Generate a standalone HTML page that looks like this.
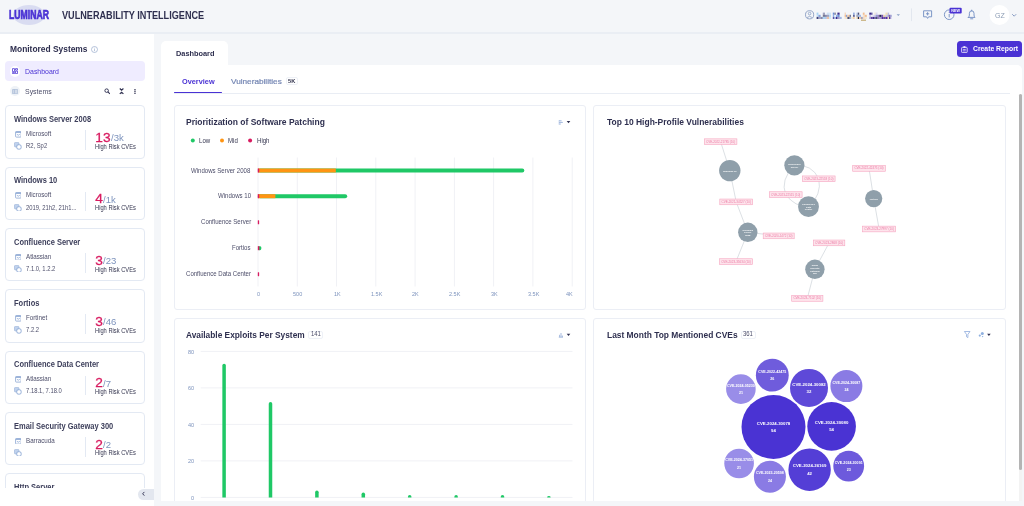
<!DOCTYPE html>
<html><head><meta charset="utf-8"><title>Vulnerability Intelligence</title>
<style>
*{box-sizing:border-box;margin:0;padding:0}
html,body{width:1024px;height:506px;overflow:hidden;background:#f4f6f9;font-family:"Liberation Sans",sans-serif;color:#2e2f4f}
.abs{position:absolute}
.t{position:absolute;white-space:nowrap;transform-origin:0 50%}
#hdr{position:absolute;left:0;top:0;width:1024px;height:34px;background:#f4f6f9;border-bottom:2px solid #eaeef4}
#side{position:absolute;left:0;top:34px;width:153.6px;height:472px;background:#fff}
.sc{position:absolute;left:5.4px;width:139.7px;height:53.3px;border:1px solid #e3e9f3;border-radius:4px;background:#fff}
.cd{position:absolute;border:1px solid #ebeef5;border-radius:3px;background:#fff}
.bdg{position:absolute;height:8.1px;border:1px solid #eef1f7;border-radius:2px;background:#fff}
svg text{font-family:"Liberation Sans",sans-serif}
.nt{font-size:2.4px;fill:#fff;font-weight:700;fill-opacity:.92}
.lt{font-size:3.1px;fill:#e8558a;fill-opacity:.72}
.bt{fill:#fff;font-weight:700}
</style></head><body>
<div id="hdr"></div>
<div class="abs" style="left:12.6px;top:4.7px;width:32.6px;height:20.3px;border-radius:50%;background:#d9dcf1"></div>
<div class="t" style="left:8.90px;top:7.28px;font-size:12.6px;line-height:16.38px;color:#4a32d4;font-weight:700;transform:scaleX(0.6869);-webkit-text-stroke:.7px #4a32d4;">LUMINAR</div>
<div class="t" style="left:61.70px;top:9.09px;font-size:10.2px;line-height:13.26px;color:#2e2f4f;font-weight:700;transform:scaleX(0.8947);">VULNERABILITY INTELLIGENCE</div>
<svg class="abs" style="left:0;top:0;width:1024px;height:34px" viewBox="0 0 1024 34">
<circle cx="809.6" cy="14.8" r="4.1" fill="none" stroke="#7d93bd" stroke-width=".8"/><circle cx="809.6" cy="13.6" r="1.3" fill="none" stroke="#7d93bd" stroke-width=".7"/><path d="M807 17.6q2.6-2.6 5.2 0" fill="none" stroke="#7d93bd" stroke-width=".7"/>
<rect x="816.6" y="12.6" width="1.8" height="2.2" fill="#a9d4f5" opacity="1"/><rect x="816.6" y="14.8" width="1.8" height="2.1" fill="#a9d4f5" opacity="0.6"/><rect x="816.6" y="16.9" width="1.8" height="2.1" fill="#3a3f7a" opacity="1"/><rect x="818.4" y="14.8" width="2.2" height="2.1" fill="#6b8fd6" opacity="0.8"/><rect x="818.4" y="16.9" width="2.2" height="2.1" fill="#3a3f7a" opacity="0.45"/><rect x="820.6" y="16.9" width="2.2" height="2.1" fill="#3a3f7a" opacity="0.6"/><rect x="822.8" y="12.6" width="2.2" height="2.2" fill="#3a3f7a" opacity="0.45"/><rect x="822.8" y="14.8" width="2.2" height="2.1" fill="#23264d" opacity="0.6"/><rect x="822.8" y="16.9" width="2.2" height="2.1" fill="#a9d4f5" opacity="1"/><rect x="825.0" y="14.8" width="1.8" height="2.1" fill="#3a3f7a" opacity="0.6"/><rect x="825.0" y="16.9" width="1.8" height="2.1" fill="#6b8fd6" opacity="0.45"/><rect x="826.8" y="12.6" width="2.2" height="2.2" fill="#c9dcf3" opacity="0.8"/><rect x="826.8" y="14.8" width="2.2" height="2.1" fill="#3a3f7a" opacity="0.45"/><rect x="826.8" y="16.9" width="2.2" height="2.1" fill="#e8a06a" opacity="0.6"/><rect x="829.0" y="12.6" width="2.0" height="2.2" fill="#a9d4f5" opacity="0.45"/><rect x="829.0" y="14.8" width="2.0" height="2.1" fill="#a9d4f5" opacity="0.8"/><rect x="829.0" y="16.9" width="2.0" height="2.1" fill="#a9d4f5" opacity="0.45"/><rect x="832.8" y="12.6" width="1.4" height="2.2" fill="#6b8fd6" opacity="1"/><rect x="832.8" y="14.8" width="1.4" height="2.1" fill="#8fb3ea" opacity="1"/><rect x="832.8" y="16.9" width="1.4" height="2.1" fill="#3a2a8c" opacity="0.8"/><rect x="834.2" y="12.6" width="1.8" height="2.2" fill="#23264d" opacity="0.45"/><rect x="834.2" y="16.9" width="1.8" height="2.1" fill="#6b8fd6" opacity="0.6"/><rect x="836.0" y="14.8" width="1.4" height="2.1" fill="#8fb3ea" opacity="1"/><rect x="836.0" y="16.9" width="1.4" height="2.1" fill="#3a2a8c" opacity="1"/><rect x="837.4" y="12.6" width="2.2" height="2.2" fill="#3a2a8c" opacity="1"/><rect x="837.4" y="14.8" width="2.2" height="2.1" fill="#6b8fd6" opacity="1"/><rect x="837.4" y="16.9" width="2.2" height="2.1" fill="#3a2a8c" opacity="0.45"/><rect x="839.6" y="16.9" width="1.8" height="2.1" fill="#6b8fd6" opacity="0.6"/><rect x="841.4" y="16.9" width="0.5" height="2.1" fill="#6b8fd6" opacity="0.45"/><rect x="844.6" y="12.6" width="1.4" height="2.2" fill="#f2b27a" opacity="0.45"/><rect x="844.6" y="14.8" width="1.4" height="2.1" fill="#f2b27a" opacity="0.8"/><rect x="844.6" y="16.9" width="1.4" height="2.1" fill="#f5c9a0" opacity="0.45"/><rect x="846.0" y="14.8" width="1.4" height="2.1" fill="#6b8fd6" opacity="0.8"/><rect x="846.0" y="16.9" width="1.4" height="2.1" fill="#f0d9a8" opacity="0.6"/><rect x="847.4" y="14.8" width="2.2" height="2.1" fill="#f5c9a0" opacity="1"/><rect x="847.4" y="16.9" width="2.2" height="2.1" fill="#23264d" opacity="0.8"/><rect x="849.6" y="14.8" width="1.4" height="2.1" fill="#23264d" opacity="0.6"/><rect x="849.6" y="16.9" width="1.4" height="2.1" fill="#6b8fd6" opacity="0.6"/><rect x="851.0" y="16.9" width="2.2" height="2.1" fill="#f0d9a8" opacity="0.45"/><rect x="853.2" y="12.6" width="1.4" height="2.2" fill="#6b8fd6" opacity="0.8"/><rect x="853.2" y="14.8" width="1.4" height="2.1" fill="#3a3f7a" opacity="1"/><rect x="853.2" y="16.9" width="1.4" height="2.1" fill="#f5c9a0" opacity="1"/><rect x="856.4" y="12.6" width="1.4" height="2.2" fill="#6b8fd6" opacity="0.45"/><rect x="856.4" y="14.8" width="1.4" height="2.1" fill="#23264d" opacity="0.45"/><rect x="856.4" y="16.9" width="1.4" height="2.1" fill="#f0d9a8" opacity="1"/><rect x="857.8" y="12.6" width="1.4" height="2.2" fill="#23264d" opacity="0.8"/><rect x="857.8" y="14.8" width="1.4" height="2.1" fill="#6b8fd6" opacity="0.6"/><rect x="857.8" y="16.9" width="1.4" height="2.1" fill="#23264d" opacity="1"/><rect x="859.2" y="14.8" width="1.8" height="2.1" fill="#6b8fd6" opacity="0.6"/><rect x="859.2" y="16.9" width="1.8" height="2.1" fill="#f5c9a0" opacity="1"/><rect x="861.0" y="16.9" width="1.8" height="2.1" fill="#3a3f7a" opacity="0.45"/><rect x="862.8" y="12.6" width="1.8" height="2.2" fill="#f2b27a" opacity="0.8"/><rect x="862.8" y="14.8" width="1.8" height="2.1" fill="#f5c9a0" opacity="0.45"/><rect x="862.8" y="16.9" width="1.8" height="2.1" fill="#f2b27a" opacity="0.45"/><rect x="864.6" y="14.8" width="2.2" height="2.1" fill="#f2b27a" opacity="0.8"/><rect x="864.6" y="16.9" width="2.2" height="2.1" fill="#f0d9a8" opacity="0.45"/><rect x="869.3" y="12.6" width="1.8" height="2.2" fill="#3a2a8c" opacity="1"/><rect x="869.3" y="14.8" width="1.8" height="2.1" fill="#c9c0e8" opacity="1"/><rect x="869.3" y="16.9" width="1.8" height="2.1" fill="#3a2a8c" opacity="0.45"/><rect x="871.1" y="12.6" width="1.4" height="2.2" fill="#3a2a8c" opacity="0.8"/><rect x="871.1" y="16.9" width="1.4" height="2.1" fill="#5a2aa0" opacity="1"/><rect x="872.5" y="14.8" width="1.8" height="2.1" fill="#c9c0e8" opacity="0.45"/><rect x="872.5" y="16.9" width="1.8" height="2.1" fill="#3a2a8c" opacity="1"/><rect x="874.3" y="12.6" width="1.4" height="2.2" fill="#f0d9a8" opacity="0.45"/><rect x="874.3" y="14.8" width="1.4" height="2.1" fill="#c9c0e8" opacity="1"/><rect x="874.3" y="16.9" width="1.4" height="2.1" fill="#3a2a8c" opacity="0.8"/><rect x="875.7" y="12.6" width="1.8" height="2.2" fill="#c9c0e8" opacity="0.6"/><rect x="875.7" y="14.8" width="1.8" height="2.1" fill="#8f9ad0" opacity="1"/><rect x="875.7" y="16.9" width="1.8" height="2.1" fill="#23264d" opacity="0.8"/><rect x="877.5" y="14.8" width="1.8" height="2.1" fill="#5a2aa0" opacity="0.6"/><rect x="877.5" y="16.9" width="1.8" height="2.1" fill="#5a2aa0" opacity="0.6"/><rect x="879.3" y="14.8" width="2.2" height="2.1" fill="#23264d" opacity="1"/><rect x="879.3" y="16.9" width="2.2" height="2.1" fill="#3a2a8c" opacity="0.45"/><rect x="881.5" y="14.8" width="1.8" height="2.1" fill="#5a2aa0" opacity="0.8"/><rect x="881.5" y="16.9" width="1.8" height="2.1" fill="#5a2aa0" opacity="1"/><rect x="883.3" y="14.8" width="2.2" height="2.1" fill="#f0d9a8" opacity="1"/><rect x="883.3" y="16.9" width="2.2" height="2.1" fill="#3a2a8c" opacity="0.8"/><rect x="885.5" y="12.6" width="2.2" height="2.2" fill="#f0d9a8" opacity="0.8"/><rect x="885.5" y="14.8" width="2.2" height="2.1" fill="#8f9ad0" opacity="0.45"/><rect x="885.5" y="16.9" width="2.2" height="2.1" fill="#5a2aa0" opacity="1"/><rect x="887.7" y="12.6" width="1.4" height="2.2" fill="#8f9ad0" opacity="0.6"/><rect x="887.7" y="14.8" width="1.4" height="2.1" fill="#3a2a8c" opacity="0.45"/><rect x="887.7" y="16.9" width="1.4" height="2.1" fill="#f0d9a8" opacity="0.8"/><rect x="889.1" y="14.8" width="1.4" height="2.1" fill="#5a2aa0" opacity="0.8"/><rect x="889.1" y="16.9" width="1.4" height="2.1" fill="#3a2a8c" opacity="1"/><rect x="890.5" y="14.8" width="1.3" height="2.1" fill="#8f9ad0" opacity="0.8"/><rect x="890.5" y="16.9" width="1.3" height="2.1" fill="#c9c0e8" opacity="0.6"/><rect x="861" y="19.6" width="5" height="1.2" fill="#b08a3a" opacity=".7"/>
<path d="M896.6 14.2h3.4l-1.7 1.9z" fill="#8ea3c8"/>
<path d="M911.5 8.4v12.7" stroke="#e2e7ef" stroke-width="1"/>
<path d="M923.6 10.8h8v6h-3l-1 1.6-1-1.6h-3z" fill="none" stroke="#6f8cc2" stroke-width=".9" stroke-linejoin="round"/><path d="M927.6 12.2v3.2M926 13.8h3.2" stroke="#6f8cc2" stroke-width=".9"/>
<circle cx="949.2" cy="14.7" r="4.8" fill="none" stroke="#6f8cc2" stroke-width=".9"/><path d="M949.2 14v3.4M949.2 11.8v1" stroke="#6f8cc2" stroke-width=".9"/>
<rect x="949.5" y="7.7" width="12.2" height="5.8" rx="1" fill="#4a32d4"/>
<text x="955.6" y="11.9" text-anchor="middle" style="font-size:3.7px;font-weight:700;fill:#fff">NEW</text>
<path d="M968.4 17.4h6.6q-1-1-1-2.4v-1.6a2.3 2.6 0 0 0-4.6 0v1.600q0 1.400-1 2.400zM970.600 18.800h2.200M971.700 10.100v.9" fill="none" stroke="#6f8cc2" stroke-width=".9" stroke-linejoin="round" stroke-linecap="round"/>
<circle cx="999.5" cy="15" r="10" fill="#fff"/>
<path d="M1012.200 14.200l2 2 2-2" fill="none" stroke="#7d93bd" stroke-width=".9"/>
</svg>
<div class="t" style="left:994.80px;top:10.92px;font-size:7.4px;line-height:9.62px;color:#8d9db5;transform:scaleX(0.9537);">GZ</div>
<div id="side"></div>
<div class="t" style="left:9.60px;top:43.49px;font-size:9.4px;line-height:12.22px;color:#2e2f4f;font-weight:700;transform:scaleX(0.8961);">Monitored Systems</div>
<svg class="abs" style="left:91px;top:45.8px;width:7px;height:7px" viewBox="0 0 10 10"><circle cx="5" cy="5" r="4.3" fill="none" stroke="#8ea3c8" stroke-width=".9"/><path d="M5 4.4v3M5 2.5v1" stroke="#8ea3c8" stroke-width=".9"/></svg>
<div class="abs" style="left:5.3px;top:61.4px;width:139.7px;height:19.5px;background:#efecff;border-radius:4px"></div>
<div class="abs" style="left:9.6px;top:66px;width:10.6px;height:10.6px;background:#fff;border-radius:50%"></div>
<svg class="abs" style="left:12.1px;top:68.3px;width:6px;height:6.2px" viewBox="0 0 12 12"><path d="M1 1h4v6H1zM7 1h4v3H7zM7 6h4v5H7zM1 9h4v2H1z" fill="none" stroke="#4a32d4" stroke-width="1.5"/></svg>
<div class="t" style="left:25.10px;top:66.91px;font-size:7.6px;line-height:9.88px;color:#4a32d4;transform:scaleX(0.9145);">Dashboard</div>
<div class="abs" style="left:9.6px;top:85.9px;width:10.6px;height:10.6px;background:#eef2f7;border-radius:50%"></div>
<svg class="abs" style="left:11.9px;top:88.6px;width:6.2px;height:5.2px" viewBox="0 0 12 10"><rect x=".8" y=".8" width="10.4" height="8.4" rx="1" fill="#d3dcea" stroke="#9fb2d1" stroke-width="1.2"/><path d="M4.6 1v8" stroke="#9fb2d1" stroke-width="1.2"/></svg>
<div class="t" style="left:25.10px;top:87.01px;font-size:7.6px;line-height:9.88px;color:#4d4e6a;transform:scaleX(0.9163);">Systems</div>
<svg class="abs" style="left:103.8px;top:88px;width:6.6px;height:6.6px" viewBox="0 0 12 12"><circle cx="4.8" cy="4.8" r="3.2" fill="none" stroke="#2e2f4f" stroke-width="1.7"/><path d="M7.2 7.2l3.6 3.6" stroke="#2e2f4f" stroke-width="2"/></svg>
<svg class="abs" style="left:118.8px;top:88.3px;width:5.2px;height:6.4px" viewBox="0 0 10 12"><path d="M1.5 .8L5 4 8.5 .8M1.5 11.2L5 8l3.5 3.2" fill="none" stroke="#2e2f4f" stroke-width="2.3"/></svg>
<svg class="abs" style="left:134.3px;top:88.7px;width:2px;height:5.6px" viewBox="0 0 2 6"><circle cx="1" cy=".9" r=".85" fill="#2e2f4f"/><circle cx="1" cy="3" r=".85" fill="#2e2f4f"/><circle cx="1" cy="5.1" r=".85" fill="#2e2f4f"/></svg>
<div class="sc" style="top:105.4px"></div>
<div class="t" style="left:13.90px;top:115.07px;font-size:8.2px;line-height:10.66px;color:#3d3f5b;font-weight:700;transform:scaleX(0.9160);">Windows Server 2008</div>
<svg class="abs" style="left:14.6px;top:131.0px;width:6.7px;height:6.7px" viewBox="0 0 8 8"><rect x=".7" y=".7" width="6.6" height="6.6" rx=".8" fill="none" stroke="#8ea9d4" stroke-width="1"/><rect x=".7" y=".7" width="6.6" height="1.5" fill="#8ea9d4"/><path d="M2.3 4q1.700 2 3.400 0" fill="none" stroke="#8ea9d4" stroke-width="1"/></svg>
<div class="t" style="left:25.80px;top:130.03px;font-size:6.4px;line-height:8.32px;color:#4d4e6a;transform:scaleX(0.9750);">Microsoft</div>
<svg class="abs" style="left:14px;top:142.2px;width:7.7px;height:7.7px" viewBox="0 0 8 8"><rect x=".4" y=".4" width="4.800" height="4.800" rx="1.200" fill="#c0d2ed" stroke="#8ea9d4" stroke-width=".6"/><rect x="2.900" y="2.900" width="4.500" height="4.500" rx="1.500" fill="#fff" stroke="#8ea9d4" stroke-width="1"/></svg>
<div class="t" style="left:25.80px;top:142.28px;font-size:6.4px;line-height:8.32px;color:#4d4e6a;transform:scaleX(0.9150);">R2, Sp2</div>
<div class="abs" style="left:85.1px;top:130.4px;width:1px;height:19.8px;background:#e3e9f3"></div>
<div class="t" style="left:95.30px;top:129.06px;font-size:13.7px;line-height:17.81px;color:#d81b60;-webkit-text-stroke:.3px #d81b60;">13</div>
<div class="t" style="left:110.84px;top:133.30px;font-size:9.2px;line-height:11.96px;color:#7d93bd;transform:scaleX(1.0400);">/3k</div>
<div class="t" style="left:95.10px;top:142.98px;font-size:6.4px;line-height:8.32px;color:#34354f;transform:scaleX(0.8985);">High Risk CVEs</div>
<div class="sc" style="top:166.7px"></div>
<div class="t" style="left:13.90px;top:176.37px;font-size:8.2px;line-height:10.66px;color:#3d3f5b;font-weight:700;transform:scaleX(0.9160);">Windows 10</div>
<svg class="abs" style="left:14.6px;top:192.3px;width:6.7px;height:6.7px" viewBox="0 0 8 8"><rect x=".7" y=".7" width="6.6" height="6.6" rx=".8" fill="none" stroke="#8ea9d4" stroke-width="1"/><rect x=".7" y=".7" width="6.6" height="1.5" fill="#8ea9d4"/><path d="M2.3 4q1.700 2 3.400 0" fill="none" stroke="#8ea9d4" stroke-width="1"/></svg>
<div class="t" style="left:25.80px;top:191.33px;font-size:6.4px;line-height:8.32px;color:#4d4e6a;transform:scaleX(0.9750);">Microsoft</div>
<svg class="abs" style="left:14px;top:203.5px;width:7.7px;height:7.7px" viewBox="0 0 8 8"><rect x=".4" y=".4" width="4.800" height="4.800" rx="1.200" fill="#c0d2ed" stroke="#8ea9d4" stroke-width=".6"/><rect x="2.900" y="2.900" width="4.500" height="4.500" rx="1.500" fill="#fff" stroke="#8ea9d4" stroke-width="1"/></svg>
<div class="t" style="left:25.80px;top:203.58px;font-size:6.4px;line-height:8.32px;color:#4d4e6a;transform:scaleX(0.9150);">2019, 21h2, 21h1...</div>
<div class="abs" style="left:85.1px;top:191.7px;width:1px;height:19.8px;background:#e3e9f3"></div>
<div class="t" style="left:95.30px;top:190.36px;font-size:13.7px;line-height:17.81px;color:#d81b60;-webkit-text-stroke:.3px #d81b60;">4</div>
<div class="t" style="left:103.22px;top:194.60px;font-size:9.2px;line-height:11.96px;color:#7d93bd;transform:scaleX(1.0400);">/1k</div>
<div class="t" style="left:95.10px;top:204.28px;font-size:6.4px;line-height:8.32px;color:#34354f;transform:scaleX(0.8985);">High Risk CVEs</div>
<div class="sc" style="top:228.0px"></div>
<div class="t" style="left:13.90px;top:237.67px;font-size:8.2px;line-height:10.66px;color:#3d3f5b;font-weight:700;transform:scaleX(0.9160);">Confluence Server</div>
<svg class="abs" style="left:14.6px;top:253.6px;width:6.7px;height:6.7px" viewBox="0 0 8 8"><rect x=".7" y=".7" width="6.6" height="6.6" rx=".8" fill="none" stroke="#8ea9d4" stroke-width="1"/><rect x=".7" y=".7" width="6.6" height="1.5" fill="#8ea9d4"/><path d="M2.3 4q1.700 2 3.400 0" fill="none" stroke="#8ea9d4" stroke-width="1"/></svg>
<div class="t" style="left:25.80px;top:252.63px;font-size:6.4px;line-height:8.32px;color:#4d4e6a;transform:scaleX(0.9750);">Atlassian</div>
<svg class="abs" style="left:14px;top:264.8px;width:7.7px;height:7.7px" viewBox="0 0 8 8"><rect x=".4" y=".4" width="4.800" height="4.800" rx="1.200" fill="#c0d2ed" stroke="#8ea9d4" stroke-width=".6"/><rect x="2.900" y="2.900" width="4.500" height="4.500" rx="1.500" fill="#fff" stroke="#8ea9d4" stroke-width="1"/></svg>
<div class="t" style="left:25.80px;top:264.88px;font-size:6.4px;line-height:8.32px;color:#4d4e6a;transform:scaleX(0.9150);">7.1.0, 1.2.2</div>
<div class="abs" style="left:85.1px;top:253.0px;width:1px;height:19.8px;background:#e3e9f3"></div>
<div class="t" style="left:95.30px;top:251.66px;font-size:13.7px;line-height:17.81px;color:#d81b60;-webkit-text-stroke:.3px #d81b60;">3</div>
<div class="t" style="left:103.22px;top:255.90px;font-size:9.2px;line-height:11.96px;color:#7d93bd;transform:scaleX(1.0400);">/23</div>
<div class="t" style="left:95.10px;top:265.58px;font-size:6.4px;line-height:8.32px;color:#34354f;transform:scaleX(0.8985);">High Risk CVEs</div>
<div class="sc" style="top:289.3px"></div>
<div class="t" style="left:13.90px;top:298.97px;font-size:8.2px;line-height:10.66px;color:#3d3f5b;font-weight:700;transform:scaleX(0.9160);">Fortios</div>
<svg class="abs" style="left:14.6px;top:314.9px;width:6.7px;height:6.7px" viewBox="0 0 8 8"><rect x=".7" y=".7" width="6.6" height="6.6" rx=".8" fill="none" stroke="#8ea9d4" stroke-width="1"/><rect x=".7" y=".7" width="6.6" height="1.5" fill="#8ea9d4"/><path d="M2.3 4q1.700 2 3.400 0" fill="none" stroke="#8ea9d4" stroke-width="1"/></svg>
<div class="t" style="left:25.80px;top:313.93px;font-size:6.4px;line-height:8.32px;color:#4d4e6a;transform:scaleX(0.9750);">Fortinet</div>
<svg class="abs" style="left:14px;top:326.1px;width:7.7px;height:7.7px" viewBox="0 0 8 8"><rect x=".4" y=".4" width="4.800" height="4.800" rx="1.200" fill="#c0d2ed" stroke="#8ea9d4" stroke-width=".6"/><rect x="2.900" y="2.900" width="4.500" height="4.500" rx="1.500" fill="#fff" stroke="#8ea9d4" stroke-width="1"/></svg>
<div class="t" style="left:25.80px;top:326.18px;font-size:6.4px;line-height:8.32px;color:#4d4e6a;transform:scaleX(0.9150);">7.2.2</div>
<div class="abs" style="left:85.1px;top:314.3px;width:1px;height:19.8px;background:#e3e9f3"></div>
<div class="t" style="left:95.30px;top:312.96px;font-size:13.7px;line-height:17.81px;color:#d81b60;-webkit-text-stroke:.3px #d81b60;">3</div>
<div class="t" style="left:103.22px;top:317.20px;font-size:9.2px;line-height:11.96px;color:#7d93bd;transform:scaleX(1.0400);">/46</div>
<div class="t" style="left:95.10px;top:326.88px;font-size:6.4px;line-height:8.32px;color:#34354f;transform:scaleX(0.8985);">High Risk CVEs</div>
<div class="sc" style="top:350.6px"></div>
<div class="t" style="left:13.90px;top:360.27px;font-size:8.2px;line-height:10.66px;color:#3d3f5b;font-weight:700;transform:scaleX(0.9160);">Confluence Data Center</div>
<svg class="abs" style="left:14.6px;top:376.2px;width:6.7px;height:6.7px" viewBox="0 0 8 8"><rect x=".7" y=".7" width="6.6" height="6.6" rx=".8" fill="none" stroke="#8ea9d4" stroke-width="1"/><rect x=".7" y=".7" width="6.6" height="1.5" fill="#8ea9d4"/><path d="M2.3 4q1.700 2 3.400 0" fill="none" stroke="#8ea9d4" stroke-width="1"/></svg>
<div class="t" style="left:25.80px;top:375.23px;font-size:6.4px;line-height:8.32px;color:#4d4e6a;transform:scaleX(0.9750);">Atlassian</div>
<svg class="abs" style="left:14px;top:387.4px;width:7.7px;height:7.7px" viewBox="0 0 8 8"><rect x=".4" y=".4" width="4.800" height="4.800" rx="1.200" fill="#c0d2ed" stroke="#8ea9d4" stroke-width=".6"/><rect x="2.900" y="2.900" width="4.500" height="4.500" rx="1.500" fill="#fff" stroke="#8ea9d4" stroke-width="1"/></svg>
<div class="t" style="left:25.80px;top:387.48px;font-size:6.4px;line-height:8.32px;color:#4d4e6a;transform:scaleX(0.9150);">7.18.1, 7.18.0</div>
<div class="abs" style="left:85.1px;top:375.6px;width:1px;height:19.8px;background:#e3e9f3"></div>
<div class="t" style="left:95.30px;top:374.26px;font-size:13.7px;line-height:17.81px;color:#d81b60;-webkit-text-stroke:.3px #d81b60;">2</div>
<div class="t" style="left:103.22px;top:378.50px;font-size:9.2px;line-height:11.96px;color:#7d93bd;transform:scaleX(1.0400);">/7</div>
<div class="t" style="left:95.10px;top:388.18px;font-size:6.4px;line-height:8.32px;color:#34354f;transform:scaleX(0.8985);">High Risk CVEs</div>
<div class="sc" style="top:411.9px"></div>
<div class="t" style="left:13.90px;top:421.57px;font-size:8.2px;line-height:10.66px;color:#3d3f5b;font-weight:700;transform:scaleX(0.9160);">Email Security Gateway 300</div>
<svg class="abs" style="left:14.6px;top:437.5px;width:6.7px;height:6.7px" viewBox="0 0 8 8"><rect x=".7" y=".7" width="6.6" height="6.6" rx=".8" fill="none" stroke="#8ea9d4" stroke-width="1"/><rect x=".7" y=".7" width="6.6" height="1.5" fill="#8ea9d4"/><path d="M2.3 4q1.700 2 3.400 0" fill="none" stroke="#8ea9d4" stroke-width="1"/></svg>
<div class="t" style="left:25.80px;top:436.53px;font-size:6.4px;line-height:8.32px;color:#4d4e6a;transform:scaleX(0.9750);">Barracuda</div>
<svg class="abs" style="left:14px;top:448.7px;width:7.7px;height:7.7px" viewBox="0 0 8 8"><rect x=".4" y=".4" width="4.800" height="4.800" rx="1.200" fill="#c0d2ed" stroke="#8ea9d4" stroke-width=".6"/><rect x="2.900" y="2.900" width="4.500" height="4.500" rx="1.500" fill="#fff" stroke="#8ea9d4" stroke-width="1"/></svg>
<div class="abs" style="left:85.1px;top:436.9px;width:1px;height:19.8px;background:#e3e9f3"></div>
<div class="t" style="left:95.30px;top:435.56px;font-size:13.7px;line-height:17.81px;color:#d81b60;-webkit-text-stroke:.3px #d81b60;">2</div>
<div class="t" style="left:103.22px;top:439.80px;font-size:9.2px;line-height:11.96px;color:#7d93bd;transform:scaleX(1.0400);">/2</div>
<div class="t" style="left:95.10px;top:449.48px;font-size:6.4px;line-height:8.32px;color:#34354f;transform:scaleX(0.8985);">High Risk CVEs</div>
<div class="sc" style="top:473.2px"></div>
<div class="t" style="left:13.90px;top:482.87px;font-size:8.2px;line-height:10.66px;color:#3d3f5b;font-weight:700;transform:scaleX(0.9160);">Http Server</div>
<svg class="abs" style="left:14.6px;top:498.8px;width:6.7px;height:6.7px" viewBox="0 0 8 8"><rect x=".7" y=".7" width="6.6" height="6.6" rx=".8" fill="none" stroke="#8ea9d4" stroke-width="1"/><rect x=".7" y=".7" width="6.6" height="1.5" fill="#8ea9d4"/><path d="M2.3 4q1.700 2 3.400 0" fill="none" stroke="#8ea9d4" stroke-width="1"/></svg>
<div class="t" style="left:25.80px;top:497.83px;font-size:6.4px;line-height:8.32px;color:#4d4e6a;transform:scaleX(0.9750);">Apache</div>
<svg class="abs" style="left:14px;top:510.0px;width:7.7px;height:7.7px" viewBox="0 0 8 8"><rect x=".4" y=".4" width="4.800" height="4.800" rx="1.200" fill="#c0d2ed" stroke="#8ea9d4" stroke-width=".6"/><rect x="2.900" y="2.900" width="4.500" height="4.500" rx="1.500" fill="#fff" stroke="#8ea9d4" stroke-width="1"/></svg>
<div class="t" style="left:25.80px;top:510.08px;font-size:6.4px;line-height:8.32px;color:#4d4e6a;transform:scaleX(0.9150);">2.4.49</div>
<div class="abs" style="left:85.1px;top:498.2px;width:1px;height:19.8px;background:#e3e9f3"></div>
<div class="t" style="left:95.30px;top:496.86px;font-size:13.7px;line-height:17.81px;color:#d81b60;-webkit-text-stroke:.3px #d81b60;">1</div>
<div class="t" style="left:103.22px;top:501.10px;font-size:9.2px;line-height:11.96px;color:#7d93bd;transform:scaleX(1.0400);">/12</div>
<div class="t" style="left:95.10px;top:510.78px;font-size:6.4px;line-height:8.32px;color:#34354f;transform:scaleX(0.8985);">High Risk CVEs</div>
<div class="abs" style="left:0;top:488px;width:153.6px;height:18px;background:#fff"></div>
<div class="abs" style="left:137.6px;top:488.8px;width:16px;height:10.8px;background:#e3e7ef;border-radius:5.4px 0 0 5.4px"></div>
<svg class="abs" style="left:140.6px;top:491.4px;width:5px;height:5.6px" viewBox="0 0 5 6"><path d="M3.4 1L1.6 3l1.8 2" fill="none" stroke="#2e2f4f" stroke-width="1"/></svg>
<div class="abs" style="left:161px;top:41px;width:67px;height:24.5px;background:#fff;border-radius:5px 5px 0 0"></div>
<div class="t" style="left:175.70px;top:49.29px;font-size:7.8px;line-height:10.14px;color:#2e2f4f;font-weight:700;transform:scaleX(0.9450);">Dashboard</div>
<div class="abs" style="left:161px;top:65px;width:861px;height:437px;background:#fff;border-radius:0 5px 0 0"></div>
<div class="abs" style="left:956.6px;top:41.3px;width:65.6px;height:16px;background:#4a32d4;border-radius:3.5px"></div>
<svg class="abs" style="left:961.3px;top:45.6px;width:6.8px;height:7.2px" viewBox="0 0 12 13"><rect x="1" y="2.4" width="10" height="9.6" rx="1.4" fill="none" stroke="#fff" stroke-width="1.4"/><rect x="4" y=".6" width="4" height="2.6" rx=".6" fill="#fff"/><path d="M3.6 6.2h4.8M3.6 8.8h4.8" stroke="#fff" stroke-width="1.2"/></svg>
<div class="t" style="left:972.80px;top:44.11px;font-size:7.6px;line-height:9.88px;color:#fff;font-weight:700;transform:scaleX(0.8974);">Create Report</div>
<div class="t" style="left:181.60px;top:76.99px;font-size:7.8px;line-height:10.14px;color:#4a32d4;font-weight:700;transform:scaleX(0.9398);">Overview</div>
<div class="t" style="left:230.60px;top:76.99px;font-size:7.8px;line-height:10.14px;color:#7486b3;transform:scaleX(1.0524);-webkit-text-stroke:.2px #7486b3;">Vulnerabilities</div>
<div class="bdg" style="left:286px;top:77.3px;width:11.8px"></div>
<div class="t" style="left:288.26px;top:78.11px;font-size:6.0px;line-height:7.8px;color:#34354f;font-weight:700;transform:scaleX(0.9500);">5K</div>
<div class="abs" style="left:173.7px;top:92.6px;width:836.7px;height:1px;background:#e9edf4"></div>
<div class="abs" style="left:173.7px;top:91.8px;width:48.3px;height:1.6px;background:#4a32d4;border-radius:1px"></div>
<div class="cd" style="left:174px;top:105px;width:412px;height:205px"></div>
<div class="cd" style="left:593px;top:105px;width:413px;height:205px"></div>
<div class="cd" style="left:174px;top:318px;width:412px;height:205px"></div>
<div class="cd" style="left:593px;top:318px;width:413px;height:205px"></div>
<div class="t" style="left:186.30px;top:116.15px;font-size:9.3px;line-height:12.09px;color:#2e2f4f;font-weight:700;transform:scaleX(0.9143);">Prioritization of Software Patching</div>
<div class="t" style="left:606.70px;top:116.15px;font-size:9.3px;line-height:12.09px;color:#2e2f4f;font-weight:700;transform:scaleX(0.9104);">Top 10 High-Profile Vulnerabilities</div>
<div class="t" style="left:186.30px;top:329.35px;font-size:9.3px;line-height:12.09px;color:#2e2f4f;font-weight:700;transform:scaleX(0.8959);">Available Exploits Per System</div>
<div class="bdg" style="left:308.1px;top:330.5px;width:15.4px"></div>
<div class="t" style="left:310.73px;top:330.08px;font-size:6.4px;line-height:8.32px;color:#4d4e6a;transform:scaleX(0.9300);">141</div>
<div class="t" style="left:606.70px;top:329.35px;font-size:9.3px;line-height:12.09px;color:#2e2f4f;font-weight:700;transform:scaleX(0.9039);">Last Month Top Mentioned CVEs</div>
<div class="bdg" style="left:740.8px;top:330.5px;width:14.8px"></div>
<div class="t" style="left:743.23px;top:330.08px;font-size:6.4px;line-height:8.32px;color:#4d4e6a;transform:scaleX(0.9300);">361</div>
<div class="t" style="left:199.10px;top:136.78px;font-size:6.4px;line-height:8.32px;color:#34354f;transform:scaleX(0.9500);">Low</div>
<div class="t" style="left:228.10px;top:136.78px;font-size:6.4px;line-height:8.32px;color:#34354f;transform:scaleX(0.9500);">Mid</div>
<div class="t" style="left:256.60px;top:136.78px;font-size:6.4px;line-height:8.32px;color:#34354f;transform:scaleX(0.9500);">High</div>
<div class="t" style="left:256.87px;top:291.32px;font-size:5.8px;line-height:7.54px;color:#7d93bd;transform:scaleX(0.9500);">0</div>
<div class="t" style="left:293.07px;top:291.32px;font-size:5.8px;line-height:7.54px;color:#7d93bd;transform:scaleX(0.9500);">500</div>
<div class="t" style="left:333.57px;top:291.32px;font-size:5.8px;line-height:7.54px;color:#7d93bd;transform:scaleX(0.9500);">1K</div>
<div class="t" style="left:370.54px;top:291.32px;font-size:5.8px;line-height:7.54px;color:#7d93bd;transform:scaleX(0.9500);">1.5K</div>
<div class="t" style="left:412.11px;top:291.32px;font-size:5.8px;line-height:7.54px;color:#7d93bd;transform:scaleX(0.9500);">2K</div>
<div class="t" style="left:449.08px;top:291.32px;font-size:5.8px;line-height:7.54px;color:#7d93bd;transform:scaleX(0.9500);">2.5K</div>
<div class="t" style="left:490.65px;top:291.32px;font-size:5.8px;line-height:7.54px;color:#7d93bd;transform:scaleX(0.9500);">3K</div>
<div class="t" style="left:527.62px;top:291.32px;font-size:5.8px;line-height:7.54px;color:#7d93bd;transform:scaleX(0.9500);">3.5K</div>
<div class="t" style="left:566.02px;top:291.32px;font-size:5.8px;line-height:7.54px;color:#7d93bd;transform:scaleX(0.9500);">4K</div>
<div class="t" style="left:191.48px;top:166.61px;font-size:6.35px;line-height:8.25px;color:#4d4e6a;transform:scaleX(0.9550);">Windows Server 2008</div>
<div class="t" style="left:217.77px;top:192.31px;font-size:6.35px;line-height:8.25px;color:#4d4e6a;transform:scaleX(0.9550);">Windows 10</div>
<div class="t" style="left:200.57px;top:218.41px;font-size:6.35px;line-height:8.25px;color:#4d4e6a;transform:scaleX(0.9550);">Confluence Server</div>
<div class="t" style="left:232.27px;top:244.31px;font-size:6.35px;line-height:8.25px;color:#4d4e6a;transform:scaleX(0.9550);">Fortios</div>
<div class="t" style="left:185.74px;top:270.31px;font-size:6.35px;line-height:8.25px;color:#4d4e6a;transform:scaleX(0.9550);">Confluence Data Center</div>
<div class="t" style="left:187.77px;top:348.52px;font-size:5.8px;line-height:7.54px;color:#7d93bd;transform:scaleX(0.9500);">80</div>
<div class="t" style="left:187.77px;top:385.02px;font-size:5.8px;line-height:7.54px;color:#7d93bd;transform:scaleX(0.9500);">60</div>
<div class="t" style="left:187.77px;top:421.52px;font-size:5.8px;line-height:7.54px;color:#7d93bd;transform:scaleX(0.9500);">40</div>
<div class="t" style="left:187.77px;top:458.02px;font-size:5.8px;line-height:7.54px;color:#7d93bd;transform:scaleX(0.9500);">20</div>
<div class="t" style="left:190.84px;top:494.52px;font-size:5.8px;line-height:7.54px;color:#7d93bd;transform:scaleX(0.9500);">0</div>
<svg class="abs" style="left:0;top:0;width:1024px;height:506px" viewBox="0 0 1024 506">
<circle cx="192.8" cy="140.6" r="2" fill="#1fc866"/>
<circle cx="222" cy="140.6" r="2" fill="#ff9412"/>
<circle cx="250.1" cy="140.6" r="2" fill="#d81b60"/>
<line x1="258.0" y1="157.5" x2="258.0" y2="286.5" stroke="#f0f1f5" stroke-width="1"/>
<line x1="297.3" y1="157.5" x2="297.3" y2="286.5" stroke="#f0f1f5" stroke-width="1"/>
<line x1="336.5" y1="157.5" x2="336.5" y2="286.5" stroke="#f0f1f5" stroke-width="1"/>
<line x1="375.8" y1="157.5" x2="375.8" y2="286.5" stroke="#f0f1f5" stroke-width="1"/>
<line x1="415.1" y1="157.5" x2="415.1" y2="286.5" stroke="#f0f1f5" stroke-width="1"/>
<line x1="454.4" y1="157.5" x2="454.4" y2="286.5" stroke="#f0f1f5" stroke-width="1"/>
<line x1="493.6" y1="157.5" x2="493.6" y2="286.5" stroke="#f0f1f5" stroke-width="1"/>
<line x1="532.9" y1="157.5" x2="532.9" y2="286.5" stroke="#f0f1f5" stroke-width="1"/>
<line x1="572.2" y1="157.5" x2="572.2" y2="286.5" stroke="#f0f1f5" stroke-width="1"/>
<line x1="260.0" y1="170.5" x2="522.3" y2="170.5" stroke="#1fc866" stroke-width="4" stroke-linecap="round"/>
<rect x="258.0" y="168.5" width="77.8" height="4" fill="#ff9412"/>
<rect x="257.7" y="168.5" width="1.5" height="4" fill="#d81b60"/>
<line x1="260.0" y1="196.2" x2="345.2" y2="196.2" stroke="#1fc866" stroke-width="4" stroke-linecap="round"/>
<rect x="258.0" y="194.2" width="17.4" height="4" fill="#ff9412"/>
<rect x="257.7" y="194.2" width="1.5" height="4" fill="#d81b60"/>
<rect x="257.8" y="220.3" width="1.35" height="4" rx=".4" fill="#d81b60"/>
<rect x="258.0" y="246.2" width="3.3" height="4" rx="1.4" fill="#1fc866"/>
<rect x="257.8" y="246.2" width="1.5" height="4" fill="#d81b60"/>
<rect x="257.8" y="272.2" width="1.35" height="4" rx=".4" fill="#d81b60"/>
<line x1="200.7" y1="351.4" x2="572.5" y2="351.4" stroke="#f0f1f5" stroke-width="1"/>
<line x1="200.7" y1="387.9" x2="572.5" y2="387.9" stroke="#f0f1f5" stroke-width="1"/>
<line x1="200.7" y1="424.4" x2="572.5" y2="424.4" stroke="#f0f1f5" stroke-width="1"/>
<line x1="200.7" y1="460.9" x2="572.5" y2="460.9" stroke="#f0f1f5" stroke-width="1"/>
<line x1="200.7" y1="497.4" x2="572.5" y2="497.4" stroke="#f0f1f5" stroke-width="1"/>
<path d="M222.35 497.4V365.4q0-1.75 1.75-1.75t1.75 1.75V497.4z" fill="#1fc866"/>
<path d="M268.75 497.4V403.7q0-1.75 1.75-1.75t1.75 1.75V497.4z" fill="#1fc866"/>
<path d="M315.15 497.4V492.2q0-1.75 1.75-1.75t1.75 1.75V497.4z" fill="#1fc866"/>
<path d="M361.55 497.4V494.2q0-1.75 1.75-1.75t1.75 1.75V497.4z" fill="#1fc866"/>
<path d="M407.95 497.4V496.8q0-1.75 1.75-1.75t1.75 1.75V497.4z" fill="#1fc866"/>
<path d="M454.35 497.4V496.8q0-1.75 1.75-1.75t1.75 1.75V497.4z" fill="#1fc866"/>
<path d="M500.75 497.4V496.8q0-1.75 1.75-1.75t1.75 1.75V497.4z" fill="#1fc866"/>
<path d="M547.15 497.4V497.4q0-1.4599999999999795 1.75-1.4599999999999795t1.75 1.4599999999999795V497.4z" fill="#1fc866"/>
<line x1="729.8" y1="170.6" x2="720.6" y2="141.7" stroke="#b9c0c9" stroke-width=".5"/>
<line x1="729.8" y1="170.6" x2="736.2" y2="201.9" stroke="#b9c0c9" stroke-width=".5"/>
<line x1="747.8" y1="232.3" x2="736.2" y2="201.9" stroke="#b9c0c9" stroke-width=".5"/>
<line x1="747.8" y1="232.3" x2="778.7" y2="235.9" stroke="#b9c0c9" stroke-width=".5"/>
<line x1="747.8" y1="232.3" x2="736" y2="261.6" stroke="#b9c0c9" stroke-width=".5"/>
<line x1="873.7" y1="198.6" x2="869" y2="168.4" stroke="#b9c0c9" stroke-width=".5"/>
<line x1="873.7" y1="198.6" x2="879.1" y2="229" stroke="#b9c0c9" stroke-width=".5"/>
<line x1="814.9" y1="269.3" x2="829.1" y2="242.9" stroke="#b9c0c9" stroke-width=".5"/>
<line x1="814.9" y1="269.3" x2="807.3" y2="298.4" stroke="#b9c0c9" stroke-width=".5"/>
<path d="M794.4 165.3Q780 180 785.7 194.6Q795 207 808.5 206.7Q822 195 818.8 178.8Q812 164 794.4 165.3" fill="none" stroke="#b9c0c9" stroke-width=".5"/>
<circle cx="729.8" cy="170.6" r="10.7" fill="#8f9faa"/>
<text x="729.8" y="171.5" text-anchor="middle" class="nt">Windows 10</text>
<circle cx="794.4" cy="165.3" r="10.1" fill="#8f9faa"/>
<text x="794.4" y="164.9" text-anchor="middle" class="nt">Confluence</text>
<text x="794.4" y="167.6" text-anchor="middle" class="nt">Server</text>
<circle cx="808.5" cy="206.7" r="10.4" fill="#8f9faa"/>
<text x="808.5" y="204.9" text-anchor="middle" class="nt">Confluence</text>
<text x="808.5" y="207.6" text-anchor="middle" class="nt">Data</text>
<text x="808.5" y="210.3" text-anchor="middle" class="nt">Center</text>
<circle cx="873.7" cy="198.6" r="8.6" fill="#8f9faa"/>
<text x="873.7" y="199.5" text-anchor="middle" class="nt">Fortios</text>
<circle cx="747.8" cy="232.3" r="9.7" fill="#8f9faa"/>
<text x="747.8" y="230.5" text-anchor="middle" class="nt">Windows</text>
<text x="747.8" y="233.2" text-anchor="middle" class="nt">Server</text>
<text x="747.8" y="235.9" text-anchor="middle" class="nt">2008</text>
<circle cx="814.9" cy="269.3" r="9.7" fill="#8f9faa"/>
<text x="814.9" y="266.1" text-anchor="middle" class="nt">Email</text>
<text x="814.9" y="268.8" text-anchor="middle" class="nt">Security</text>
<text x="814.9" y="271.6" text-anchor="middle" class="nt">Gateway</text>
<text x="814.9" y="274.2" text-anchor="middle" class="nt">300</text>
<rect x="704.4" y="138.85" width="32.5" height="5.7" fill="#fde4ec" stroke="#f6a5c0" stroke-width=".6"/>
<text x="720.6" y="142.75" text-anchor="middle" class="lt" textLength="29.1" lengthAdjust="spacingAndGlyphs">CVE-2022-21785 (10)</text>
<rect x="802.4" y="175.95" width="32.7" height="5.7" fill="#fde4ec" stroke="#f6a5c0" stroke-width=".6"/>
<text x="818.8" y="179.85" text-anchor="middle" class="lt" textLength="29.3" lengthAdjust="spacingAndGlyphs">CVE-2023-22518 (10)</text>
<rect x="769.4" y="191.75" width="32.7" height="5.7" fill="#fde4ec" stroke="#f6a5c0" stroke-width=".6"/>
<text x="785.7" y="195.65" text-anchor="middle" class="lt" textLength="29.3" lengthAdjust="spacingAndGlyphs">CVE-2023-22515 (10)</text>
<rect x="719.8" y="199.05" width="32.8" height="5.7" fill="#fde4ec" stroke="#f6a5c0" stroke-width=".6"/>
<text x="736.2" y="202.95" text-anchor="middle" class="lt" textLength="29.4" lengthAdjust="spacingAndGlyphs">CVE-2021-34527 (10)</text>
<rect x="852.7" y="165.55" width="32.6" height="5.7" fill="#fde4ec" stroke="#f6a5c0" stroke-width=".6"/>
<text x="869" y="169.45" text-anchor="middle" class="lt" textLength="29.2" lengthAdjust="spacingAndGlyphs">CVE-2022-42475 (10)</text>
<rect x="862.6" y="226.15" width="33" height="5.7" fill="#fde4ec" stroke="#f6a5c0" stroke-width=".6"/>
<text x="879.1" y="230.05" text-anchor="middle" class="lt" textLength="29.6" lengthAdjust="spacingAndGlyphs">CVE-2023-27997 (10)</text>
<rect x="763.2" y="233.05" width="31" height="5.7" fill="#fde4ec" stroke="#f6a5c0" stroke-width=".6"/>
<text x="778.7" y="236.95" text-anchor="middle" class="lt" textLength="27.6" lengthAdjust="spacingAndGlyphs">CVE-2020-1472 (10)</text>
<rect x="719.5" y="258.75" width="33" height="5.7" fill="#fde4ec" stroke="#f6a5c0" stroke-width=".6"/>
<text x="736" y="262.65" text-anchor="middle" class="lt" textLength="29.6" lengthAdjust="spacingAndGlyphs">CVE-2023-35634 (10)</text>
<rect x="813.4" y="240.05" width="31.4" height="5.7" fill="#fde4ec" stroke="#f6a5c0" stroke-width=".6"/>
<text x="829.1" y="243.95" text-anchor="middle" class="lt" textLength="28.0" lengthAdjust="spacingAndGlyphs">CVE-2023-2868 (10)</text>
<rect x="791.7" y="295.55" width="31.2" height="5.7" fill="#fde4ec" stroke="#f6a5c0" stroke-width=".6"/>
<text x="807.3" y="299.45" text-anchor="middle" class="lt" textLength="27.8" lengthAdjust="spacingAndGlyphs">CVE-2023-7102 (10)</text>
<circle cx="773.5" cy="427" r="32" fill="#4a33d3"/>
<text x="773.5" y="424.6" text-anchor="middle" class="bt" style="font-size:4.3px" textLength="33.5" lengthAdjust="spacingAndGlyphs">CVE-2024-30078</text>
<text x="773.5" y="432.0" text-anchor="middle" class="bt" style="font-size:4.3px">94</text>
<circle cx="831.6" cy="426.4" r="24.3" fill="#4a33d3"/>
<text x="831.6" y="424.0" text-anchor="middle" class="bt" style="font-size:4.3px" textLength="33.5" lengthAdjust="spacingAndGlyphs">CVE-2024-30080</text>
<text x="831.6" y="431.4" text-anchor="middle" class="bt" style="font-size:4.3px">54</text>
<circle cx="809" cy="387.9" r="19" fill="#5e49d8"/>
<text x="809" y="385.5" text-anchor="middle" class="bt" style="font-size:4.3px" textLength="33.5" lengthAdjust="spacingAndGlyphs">CVE-2024-30082</text>
<text x="809" y="392.9" text-anchor="middle" class="bt" style="font-size:4.3px">32</text>
<circle cx="809.6" cy="469.7" r="21.2" fill="#543ed6"/>
<text x="809.6" y="467.3" text-anchor="middle" class="bt" style="font-size:4.3px" textLength="33.5" lengthAdjust="spacingAndGlyphs">CVE-2024-26169</text>
<text x="809.6" y="474.7" text-anchor="middle" class="bt" style="font-size:4.3px">42</text>
<circle cx="772.3" cy="375.2" r="16.4" fill="#6f5cdc"/>
<text x="772.3" y="372.8" text-anchor="middle" class="bt" style="font-size:3.6px" textLength="27.9" lengthAdjust="spacingAndGlyphs">CVE-2022-42475</text>
<text x="772.3" y="380.2" text-anchor="middle" class="bt" style="font-size:3.6px">26</text>
<circle cx="740.9" cy="389.1" r="14.8" fill="#998de8"/>
<text x="740.9" y="386.7" text-anchor="middle" class="bt" style="font-size:3.6px" textLength="27.9" lengthAdjust="spacingAndGlyphs">CVE-2024-05230</text>
<text x="740.9" y="394.1" text-anchor="middle" class="bt" style="font-size:3.6px">21</text>
<circle cx="846.4" cy="386.1" r="16" fill="#8a7be4"/>
<text x="846.4" y="383.7" text-anchor="middle" class="bt" style="font-size:3.6px" textLength="27.9" lengthAdjust="spacingAndGlyphs">CVE-2024-30087</text>
<text x="846.4" y="391.1" text-anchor="middle" class="bt" style="font-size:3.6px">24</text>
<circle cx="848.7" cy="466.1" r="15.4" fill="#6d5adc"/>
<text x="848.7" y="463.7" text-anchor="middle" class="bt" style="font-size:3.6px" textLength="27.9" lengthAdjust="spacingAndGlyphs">CVE-2024-30091</text>
<text x="848.7" y="471.1" text-anchor="middle" class="bt" style="font-size:3.6px">23</text>
<circle cx="739.1" cy="463.5" r="14.8" fill="#998de8"/>
<text x="739.1" y="461.1" text-anchor="middle" class="bt" style="font-size:3.6px" textLength="27.9" lengthAdjust="spacingAndGlyphs">CVE-2024-37051</text>
<text x="739.1" y="468.5" text-anchor="middle" class="bt" style="font-size:3.6px">21</text>
<circle cx="769.9" cy="476.8" r="16" fill="#8a7be4"/>
<text x="769.9" y="474.4" text-anchor="middle" class="bt" style="font-size:3.6px" textLength="27.9" lengthAdjust="spacingAndGlyphs">CVE-2023-20598</text>
<text x="769.9" y="481.8" text-anchor="middle" class="bt" style="font-size:3.6px">24</text>
<path d="M559 120.1v4.6" stroke="#a9bfe3" stroke-width=".5" fill="none"/><path d="M559 120.8h2.6M559 122.4h3.8M559 124h1.8" stroke="#9db4dc" stroke-width=".95" fill="none"/><path d="M566.7 121h3.6l-1.8 2.2z" fill="#2e2f4f"/>
<path d="M558.8 337.2h4.2M559.6 337v-2.2M561 337v-4M562.4 337v-1.4" stroke="#9db4dc" stroke-width=".9" fill="none"/><path d="M566.7 333.7h3.6l-1.8 2.2z" fill="#2e2f4f"/>
<path d="M964.4 331.5h5.6l-2.1 2.9v3.2l-1.4-.9v-2.3z" fill="none" stroke="#7fa0d8" stroke-width=".7" stroke-linejoin="round"/>
<circle cx="982.3" cy="333.6" r="1.5" fill="#8fb0e0"/><circle cx="979.8" cy="335.6" r="1.1" fill="#8fb0e0"/><circle cx="982.6" cy="336.6" r=".7" fill="#8fb0e0"/><path d="M987.1 333.8h3.6l-1.8 2.2z" fill="#2e2f4f"/>
</svg>
<div class="abs" style="left:153.6px;top:501.2px;width:870.4px;height:5px;background:#f4f6f9"></div>
<div class="abs" style="left:1018.5px;top:93.6px;width:3.5px;height:407.6px;background:#f3f3f3"></div><div class="abs" style="left:1018.5px;top:93.6px;width:3.5px;height:376.8px;background:#b4b4b4;border-radius:1.8px"></div>
</body></html>
